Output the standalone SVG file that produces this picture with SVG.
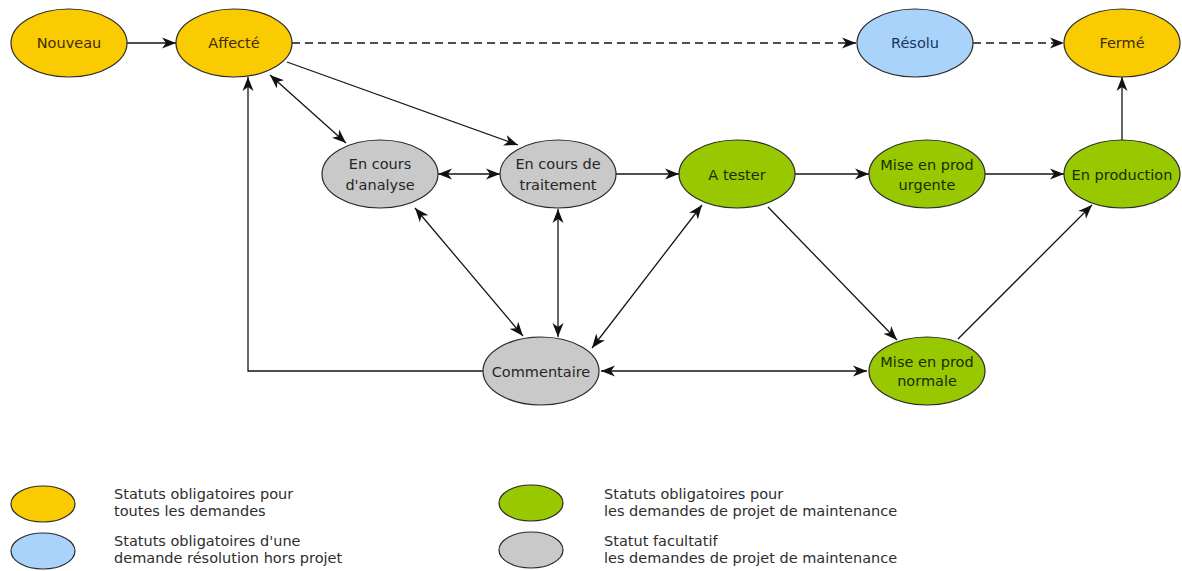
<svg xmlns="http://www.w3.org/2000/svg" width="1182" height="571" viewBox="0 0 1182 571">
<style>
  .node ellipse { stroke: #2b2b2b; stroke-width: 1.2; }
  .yellow ellipse { fill: #FACB00; }
  .blue ellipse { fill: #A9D3FB; }
  .green ellipse { fill: #98C800; }
  .gray ellipse { fill: #C9C9C9; }
  .node text { font-family: "DejaVu Sans", sans-serif; font-size: 14.5px; text-anchor: middle; dominant-baseline: central; }
  .yellow text { fill: #3f2e00; }
  .blue text { fill: #163660; }
  .green text { fill: #182e00; }
  .gray text { fill: #262626; }
  .edge { fill: none; stroke: #151515; stroke-width: 1.3; }
  .dash { stroke-dasharray: 8 5; }
  .legend text { font-family: "DejaVu Sans", sans-serif; font-size: 14.5px; fill: #2e2e2e; }
</style>
<defs>
  <marker id="arr" markerUnits="userSpaceOnUse" markerWidth="15" markerHeight="12" refX="14" refY="5.5" orient="auto-start-reverse" viewBox="0 0 15 11">
    <path d="M0,0 L14,5.5 L0,11 L4,5.5 Z" fill="#111"/>
  </marker>
</defs>

<g id="connectors">
  <line class="edge" x1="127" y1="43" x2="176" y2="43" marker-end="url(#arr)"/>
  <line class="edge dash" x1="292" y1="43" x2="856" y2="43" marker-end="url(#arr)"/>
  <line class="edge dash" x1="973" y1="43" x2="1064" y2="43" marker-end="url(#arr)"/>
  <line class="edge" x1="1122" y1="140" x2="1122" y2="77" marker-end="url(#arr)"/>
  <line class="edge" x1="270" y1="75" x2="346" y2="143" marker-start="url(#arr)" marker-end="url(#arr)"/>
  <line class="edge" x1="287" y1="62" x2="518" y2="145" marker-end="url(#arr)"/>
  <line class="edge" x1="438" y1="174" x2="500" y2="174" marker-start="url(#arr)" marker-end="url(#arr)"/>
  <line class="edge" x1="615" y1="174" x2="679" y2="174" marker-end="url(#arr)"/>
  <line class="edge" x1="795" y1="174" x2="869" y2="174" marker-end="url(#arr)"/>
  <line class="edge" x1="985" y1="174" x2="1064" y2="174" marker-end="url(#arr)"/>
  <line class="edge" x1="958" y1="339" x2="1092" y2="205" marker-end="url(#arr)"/>
  <line class="edge" x1="768" y1="207" x2="897" y2="340" marker-end="url(#arr)"/>
  <line class="edge" x1="592" y1="348" x2="702" y2="205" marker-start="url(#arr)" marker-end="url(#arr)"/>
  <line class="edge" x1="558" y1="337" x2="558" y2="209" marker-start="url(#arr)" marker-end="url(#arr)"/>
  <line class="edge" x1="523" y1="336" x2="415" y2="208" marker-start="url(#arr)" marker-end="url(#arr)"/>
  <line class="edge" x1="601" y1="371" x2="867" y2="371" marker-start="url(#arr)" marker-end="url(#arr)"/>
  <polyline class="edge" points="483,371 248,371 248,77" marker-end="url(#arr)"/>
</g>

<g id="nouveau" class="node yellow"><ellipse cx="69" cy="43" rx="58" ry="34"/><text x="69" y="43">Nouveau</text></g>
<g id="affecte" class="node yellow"><ellipse cx="234" cy="43" rx="58" ry="34"/><text x="234" y="43">Affecté</text></g>
<g id="resolu" class="node blue"><ellipse cx="915" cy="43" rx="58" ry="34"/><text x="915" y="43">Résolu</text></g>
<g id="ferme" class="node yellow"><ellipse cx="1122" cy="43" rx="58" ry="34"/><text x="1122" y="43">Fermé</text></g>
<g id="analyse" class="node gray"><ellipse cx="380" cy="174" rx="58" ry="34"/><text x="380" y="164">En cours</text><text x="380" y="185">d'analyse</text></g>
<g id="traitement" class="node gray"><ellipse cx="558" cy="174" rx="58" ry="34"/><text x="558" y="164">En cours de</text><text x="558" y="185">traitement</text></g>
<g id="atester" class="node green"><ellipse cx="737" cy="174" rx="58" ry="34"/><text x="737" y="175">A tester</text></g>
<g id="urgente" class="node green"><ellipse cx="927" cy="174" rx="58" ry="34"/><text x="927" y="165">Mise en prod</text><text x="927" y="185">urgente</text></g>
<g id="production" class="node green"><ellipse cx="1122" cy="174" rx="58" ry="34"/><text x="1122" y="175">En production</text></g>
<g id="commentaire" class="node gray"><ellipse cx="541" cy="371" rx="58" ry="34"/><text x="541" y="372">Commentaire</text></g>
<g id="normale" class="node green"><ellipse cx="927" cy="371" rx="58" ry="34"/><text x="927" y="362">Mise en prod</text><text x="927" y="381">normale</text></g>

<g id="legend" class="legend">
  <g class="node yellow"><ellipse cx="43" cy="504" rx="32" ry="18"/></g>
  <g class="node blue"><ellipse cx="43" cy="551" rx="32" ry="18"/></g>
  <g class="node green"><ellipse cx="531" cy="503" rx="32" ry="18"/></g>
  <g class="node gray"><ellipse cx="531" cy="550" rx="32" ry="18"/></g>
  <text x="114" y="499">Statuts obligatoires pour</text>
  <text x="114" y="516">toutes les demandes</text>
  <text x="114" y="546">Statuts obligatoires d'une</text>
  <text x="114" y="563">demande résolution hors projet</text>
  <text x="604" y="499">Statuts obligatoires pour</text>
  <text x="604" y="516">les demandes de projet de maintenance</text>
  <text x="604" y="546">Statut facultatif</text>
  <text x="604" y="563">les demandes de projet de maintenance</text>
</g>
</svg>
